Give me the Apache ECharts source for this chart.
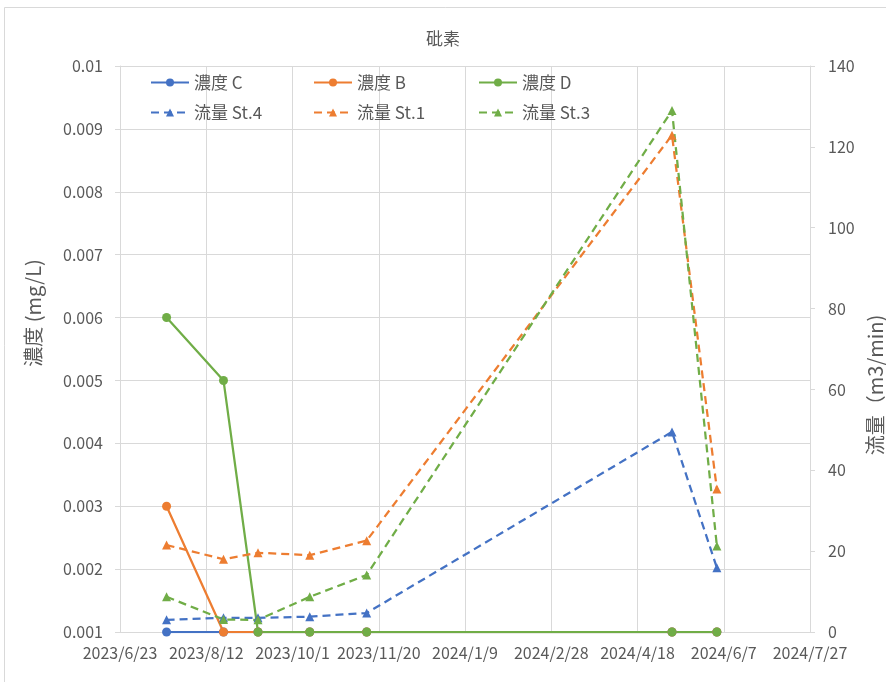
<!DOCTYPE html>
<html>
<head>
<meta charset="utf-8">
<script src="https://cdn.jsdelivr.net/npm/echarts@6/dist/echarts.min.js"></script>
<style>html,body{margin:0;padding:0;background:#fff}#c{width:886px;height:682px}</style>
</head>
<body>
<div id="c"></div>
<script>
// ---- data ----
const dates = ['2023/7/20','2023/8/22','2023/9/11','2023/10/11','2023/11/13','2024/5/8','2024/6/3'];
const concC = [0.001,0.001,0.001,0.001,0.001,0.001,0.001];
const concB = [0.003,0.001,0.001,0.001,0.001,0.001,0.001];
const concD = [0.006,0.005,0.001,0.001,0.001,0.001,0.001];
const flowSt4 = [3,3.5,3.5,3.8,4.7,49.5,15.9];
const flowSt1 = [21.5,18,19.6,19,22.6,122.9,35.4];
const flowSt3 = [8.7,3.1,3,8.7,14.1,129,21.3];
const xStart = '2023/6/23';
const xEnd = '2024/7/27';
const xTickDays = 50;
const yLeftTicks = ['0.001','0.002','0.003','0.004','0.005','0.006','0.007','0.008','0.009','0.01'];
const yRightTicks = [0,20,40,60,80,100,120,140];

// ---- helpers ----
const DAY = 86400000;
function toUTC(s){const p=s.split('/').map(Number);return Date.UTC(p[0],p[1]-1,p[2]);}
const base = toUTC(xStart);
function dayOff(s){return Math.round((toUTC(s)-base)/DAY);}
function fmtDay(v){const d=new Date(base+v*DAY);return d.getUTCFullYear()+'/'+(d.getUTCMonth()+1)+'/'+d.getUTCDate();}
const xs = dates.map(dayOff);
const pair = arr => xs.map((x,i)=>[x,arr[i]]);

const BLUE='#4472C4', ORANGE='#ED7D31', GREEN='#70AD47';
const FONT='"Noto Sans CJK JP", "Noto Sans", sans-serif';
const TXT='#595959';
const GRIDC='#d9d9d9';

function solid(name,color,arr){
  return {name,type:'line',yAxisIndex:0,data:pair(arr),symbol:'circle',symbolSize:9,
    lineStyle:{color,width:2.25},itemStyle:{color},z:2};
}
function dashed(name,color,arr){
  return {name,type:'line',yAxisIndex:1,data:pair(arr),symbol:'triangle',symbolSize:9,
    lineStyle:{color,width:2.25,type:[8,5]},itemStyle:{color},z:3};
}

const chart = echarts.init(document.getElementById('c'));
const legendBase = {orient:'vertical',top:74,padding:0,itemWidth:38,itemHeight:10,itemGap:13,
  textStyle:{fontFamily:FONT,fontSize:17,color:TXT},selectedMode:false};
chart.setOption({
  animation:false,
  backgroundColor:'#fff',
  textStyle:{fontFamily:FONT},
  title:{text:'砒素',left:'center',top:25,textStyle:{fontFamily:FONT,fontSize:17,fontWeight:'normal',color:TXT}},
  legend:[
    Object.assign({},legendBase,{left:150,data:['濃度 C','流量 St.4']}),
    Object.assign({},legendBase,{left:313,data:['濃度 B','流量 St.1']}),
    Object.assign({},legendBase,{left:478,data:['濃度 D','流量 St.3']})
  ],
  grid:{left:120,right:76,top:66,bottom:50,containLabel:false},
  xAxis:{type:'value',min:0,max:dayOff(xEnd),interval:xTickDays,
    axisLine:{show:true,lineStyle:{color:GRIDC,width:1}},
    axisTick:{show:false},
    axisLabel:{formatter:fmtDay,color:TXT,fontSize:16,fontFamily:FONT,margin:13},
    splitLine:{show:true,lineStyle:{color:GRIDC,width:1}}},
  yAxis:[
    {type:'value',min:0.001,max:0.01,interval:0.001,position:'left',
     axisLine:{show:true,lineStyle:{color:GRIDC}},
     axisTick:{show:true,length:5,lineStyle:{color:GRIDC}},
     axisLabel:{formatter:v=>{const s=String(+v.toFixed(3));return yLeftTicks.indexOf(s)>=0?s:'';},color:TXT,fontSize:16,fontFamily:FONT,margin:17},
     splitLine:{show:true,lineStyle:{color:GRIDC}}},
    {type:'value',min:0,max:140,interval:20,position:'right',
     axisLine:{show:true,lineStyle:{color:GRIDC}},
     axisTick:{show:true,length:5,lineStyle:{color:GRIDC}},
     axisLabel:{formatter:v=>yRightTicks.indexOf(v)>=0?String(v):'',color:TXT,fontSize:16,fontFamily:FONT,margin:18},
     splitLine:{show:false}}
  ],
  graphic:[
    {type:'rect',shape:{x:4.5,y:7.5,width:900,height:700},style:{fill:'none',stroke:GRIDC,lineWidth:1},silent:true,z:-10},
    {type:'text',x:33,y:313,rotation:Math.PI/2,style:{text:'濃度 (mg/L)',font:'20px '+FONT,fill:TXT,align:'center',verticalAlign:'middle'}},
    {type:'text',x:875,y:385,rotation:Math.PI/2,style:{text:'流量（m3/min)',font:'20px '+FONT,fill:TXT,align:'center',verticalAlign:'middle'}}
  ],
  series:[
    solid('濃度 C',BLUE,concC),
    solid('濃度 B',ORANGE,concB),
    solid('濃度 D',GREEN,concD),
    dashed('流量 St.4',BLUE,flowSt4),
    dashed('流量 St.1',ORANGE,flowSt1),
    dashed('流量 St.3',GREEN,flowSt3)
  ]
});
</script>
</body>
</html>
